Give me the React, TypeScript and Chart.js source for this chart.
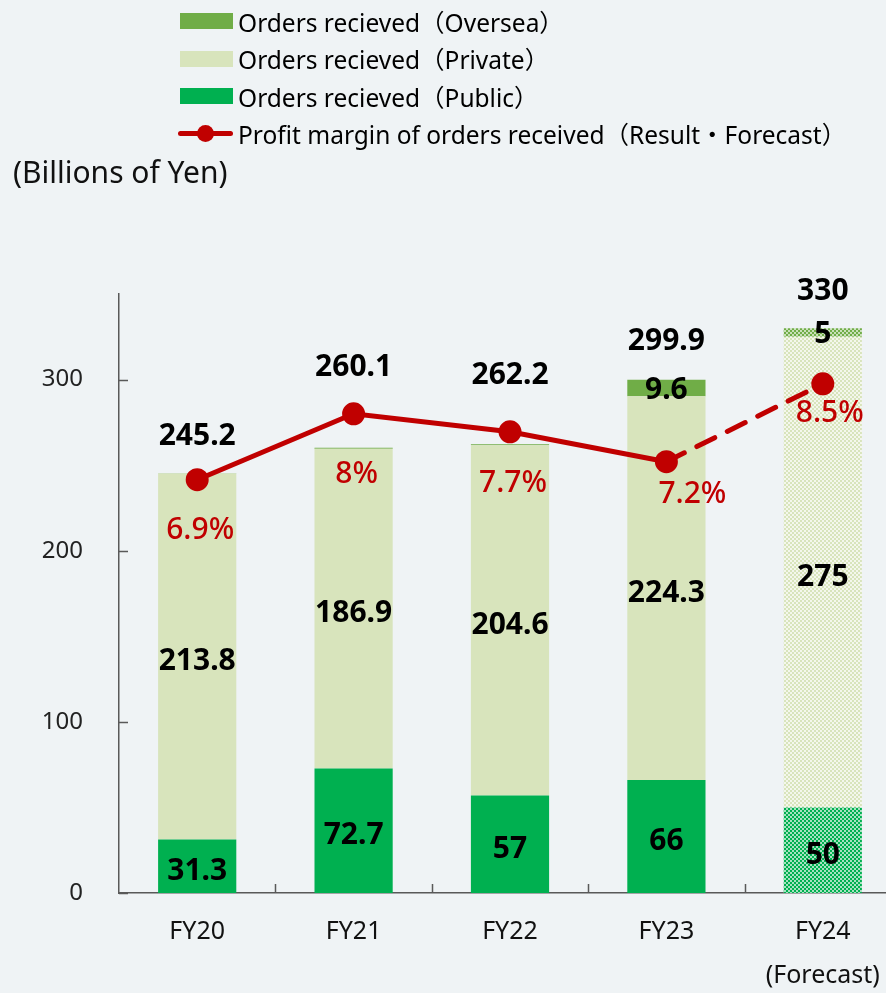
import React, { useEffect, useRef } from "react";
import { Chart, registerables } from "chart.js";

Chart.register(...registerables);

// ---------- data ----------
const categories = ["FY20", "FY21", "FY22", "FY23", "FY24"];
const forecastNote = "(Forecast)";
const publicOrders = [31.3, 72.7, 57, 66, 50];
const privateOrders = [213.8, 186.9, 204.6, 224.3, 275];
const overseaOrders = [0.1, 0.5, 0.6, 9.6, 5];
const totals = [245.2, 260.1, 262.2, 299.9, 330];
const profitMargin = [6.9, 8, 7.7, 7.2, 8.5];
const overseaShown = [false, false, false, true, true];
const yTickValues = [0, 100, 200, 300];
const seriesNames = [
  "Orders recieved（Oversea）",
  "Orders recieved（Private）",
  "Orders recieved（Public）",
  "Profit margin of orders received（Result・Forecast）",
];
const unitLabel = "(Billions of Yen)";
const forecastIndex = 4;

// ---------- styles / label placement ----------
const FONT = '"Noto Sans", "Noto Sans CJK JP", sans-serif';
const BG = "#EFF3F5";
const C_PUBLIC = "#00B050";
const C_PRIVATE = "#D8E4BC";
const C_OVERSEA = "#70AD47";
const C_LINE = "#C00000";
const AXIS = "#595959";
const CANVAS_W = 901;
const CANVAS_H = 993;
const totalLabelDy = [-37, -80, -69, -38, -37];
const pctLabelDx = [3, 3, 3, 26, 7];
const pctLabelDy = [51, 61, 52, 33, 30];

function makePattern(color: string, light: string): CanvasPattern | string {
  const c = document.createElement("canvas");
  c.width = 4;
  c.height = 4;
  const g = c.getContext("2d");
  if (!g) return color;
  g.fillStyle = light;
  g.fillRect(0, 0, 4, 4);
  g.fillStyle = color;
  g.fillRect(0, 0, 2, 2);
  g.fillRect(2, 2, 2, 2);
  const p = g.createPattern(c, "repeat");
  return p || color;
}

const labelPlugin = {
  id: "valueLabels",
  afterDatasetsDraw(chart: any) {
    const ctx = chart.ctx;
    ctx.save();
    ctx.textAlign = "center";
    ctx.textBaseline = "middle";
    const segText: (string | null)[][] = [
      publicOrders.map((v) => String(v)),
      privateOrders.map((v) => String(v)),
      overseaOrders.map((v, i) => (overseaShown[i] ? String(v) : null)),
    ];
    ctx.font = `bold 30px ${FONT}`;
    ctx.fillStyle = "#000";
    for (let di = 0; di < 3; di++) {
      const meta = chart.getDatasetMeta(di);
      meta.data.forEach((el: any, i: number) => {
        const t = segText[di][i];
        if (!t) return;
        const { x, y, base } = el.getProps(["x", "y", "base"], true);
        ctx.fillText(t, x, (y + base) / 2 + (di === 2 ? 2 : 5));
      });
    }
    const topMeta = chart.getDatasetMeta(2);
    topMeta.data.forEach((el: any, i: number) => {
      const { x, y } = el.getProps(["x", "y"], true);
      ctx.fillText(String(totals[i]), x, y + totalLabelDy[i]);
    });
    ctx.font = `500 30px ${FONT}`;
    ctx.fillStyle = C_LINE;
    const lineMeta = chart.getDatasetMeta(3);
    lineMeta.data.forEach((el: any, i: number) => {
      const { x, y } = el.getProps(["x", "y"], true);
      ctx.fillText(`${profitMargin[i]}%`, x + pctLabelDx[i], y + pctLabelDy[i]);
    });
    ctx.restore();
  },
};

const tickPlugin = {
  id: "innerTicks",
  afterDraw(chart: any) {
    const ctx = chart.ctx;
    const ys = chart.scales.y;
    const xs = chart.scales.x;
    const area = chart.chartArea;
    ctx.save();
    ctx.strokeStyle = AXIS;
    ctx.lineWidth = 1.5;
    ctx.beginPath();
    ys.ticks.forEach((t: any) => {
      const py = Math.round(ys.getPixelForValue(t.value)) + 0.5;
      ctx.moveTo(area.left, py);
      ctx.lineTo(area.left + 9, py);
    });
    for (let i = 0; i < categories.length - 1; i++) {
      const px = Math.round((xs.getPixelForValue(i) + xs.getPixelForValue(i + 1)) / 2) + 0.5;
      ctx.moveTo(px, area.bottom);
      ctx.lineTo(px, area.bottom - 9);
    }
    ctx.stroke();
    ctx.restore();
  },
};

export default function App() {
  const ref = useRef<HTMLCanvasElement | null>(null);

  useEffect(() => {
    const canvas = ref.current;
    if (!canvas) return;
    const fy = (base: string, pat: CanvasPattern | string) =>
      categories.map((_, i) => (i === forecastIndex ? pat : base));

    const chart = new Chart(canvas, {
      type: "bar",
      data: {
        labels: categories.map((c, i) => (i === forecastIndex ? [c, forecastNote] : c)),
        datasets: [
          {
            type: "bar",
            label: seriesNames[2],
            data: publicOrders,
            backgroundColor: fy(C_PUBLIC, makePattern(C_PUBLIC, "#A6E2C0")),
            stack: "s",
            yAxisID: "y",
            order: 1,
          },
          {
            type: "bar",
            label: seriesNames[1],
            data: privateOrders,
            backgroundColor: fy(C_PRIVATE, makePattern(C_PRIVATE, "#F4F7EC")),
            stack: "s",
            yAxisID: "y",
            order: 1,
          },
          {
            type: "bar",
            label: seriesNames[0],
            data: overseaOrders,
            backgroundColor: fy(C_OVERSEA, makePattern(C_OVERSEA, "#C9E0B8")),
            stack: "s",
            yAxisID: "y",
            order: 1,
          },
          {
            type: "line",
            label: seriesNames[3],
            data: profitMargin,
            borderColor: C_LINE,
            backgroundColor: C_LINE,
            pointBackgroundColor: C_LINE,
            pointBorderColor: C_LINE,
            pointRadius: 9,
            borderWidth: 5,
            borderCapStyle: "round",
            tension: 0,
            yAxisID: "y2",
            order: 0,
            clip: false,
            segment: {
              borderDash: (c: any) => (c.p1DataIndex === forecastIndex ? [20, 14] : undefined),
            },
          } as any,
        ],
      },
      options: {
        responsive: true,
        maintainAspectRatio: false,
        animation: false,
        devicePixelRatio: 1,
        layout: { autoPadding: false, padding: { top: 294, right: 0, left: 0, bottom: 0 } },
        plugins: {
          legend: { display: false },
          tooltip: { enabled: false },
          title: { display: false },
        },
        datasets: {
          bar: { categoryPercentage: 0.5, barPercentage: 1 },
        },
        scales: {
          x: {
            stacked: true,
            grid: { display: false, drawTicks: false },
            border: { display: true, color: AXIS, width: 1.5 },
            ticks: {
              color: "#111",
              padding: 17,
              maxRotation: 0,
              font: { family: FONT, size: 25, lineHeight: 1.75 },
            },
            afterFit: (s: any) => {
              s.height = 100;
              s.paddingLeft = 0;
              s.paddingRight = 0;
            },
          },
          y: {
            stacked: true,
            min: 0,
            max: 350,
            grid: { display: false, drawTicks: false },
            border: { display: true, color: AXIS, width: 1.5 },
            afterBuildTicks: (s: any) => {
              s.ticks = yTickValues.map((v) => ({ value: v }));
            },
            ticks: {
              color: "#222",
              padding: 36,
              font: { family: FONT, size: 24 },
            },
            afterFit: (s: any) => {
              s.width = 119;
              s.paddingTop = 0;
              s.paddingBottom = 0;
            },
          },
          y2: {
            display: false,
            min: 0,
            max: 10,
          },
        },
      },
      plugins: [labelPlugin, tickPlugin],
    } as any);
    return () => chart.destroy();
  }, []);

  const legendRows = [
    { name: seriesNames[0], color: C_OVERSEA, kind: "box" },
    { name: seriesNames[1], color: C_PRIVATE, kind: "box" },
    { name: seriesNames[2], color: C_PUBLIC, kind: "box" },
    { name: seriesNames[3], color: C_LINE, kind: "line" },
  ];

  return (
    <div
      style={{
        position: "fixed",
        left: 0,
        top: 0,
        width: 886,
        height: 993,
        overflow: "hidden",
        background: BG,
        fontFamily: FONT,
      }}
    >
      <div style={{ position: "absolute", left: 0, top: 0, width: CANVAS_W, height: CANVAS_H }}>
        <canvas ref={ref} />
      </div>
      {legendRows.map((r, i) => (
        <div
          key={i}
          style={{
            position: "absolute",
            left: 178,
            top: 22 + i * 37.6 - 17,
            height: 32,
            display: "flex",
            alignItems: "center",
            whiteSpace: "nowrap",
            fontSize: 24.5,
            color: "#000",
          }}
        >
          {r.kind === "box" ? (
            <div style={{ width: 53, height: 16, background: r.color, marginLeft: 2 }} />
          ) : (
            <div style={{ position: "relative", width: 55, height: 16 }}>
              <div style={{ position: "absolute", left: 0, top: 5.5, width: 55, height: 5, background: r.color, borderRadius: 3 }} />
              <div style={{ position: "absolute", left: 19, top: -1, width: 17, height: 17, background: r.color, borderRadius: "50%" }} />
            </div>
          )}
          <span style={{ marginLeft: 5 }}>{r.name}</span>
        </div>
      ))}
      <div
        style={{
          position: "absolute",
          left: 13,
          top: 153,
          fontSize: 30,
          lineHeight: "38px",
          color: "#111",
          whiteSpace: "nowrap",
        }}
      >
        {unitLabel}
      </div>
    </div>
  );
}
